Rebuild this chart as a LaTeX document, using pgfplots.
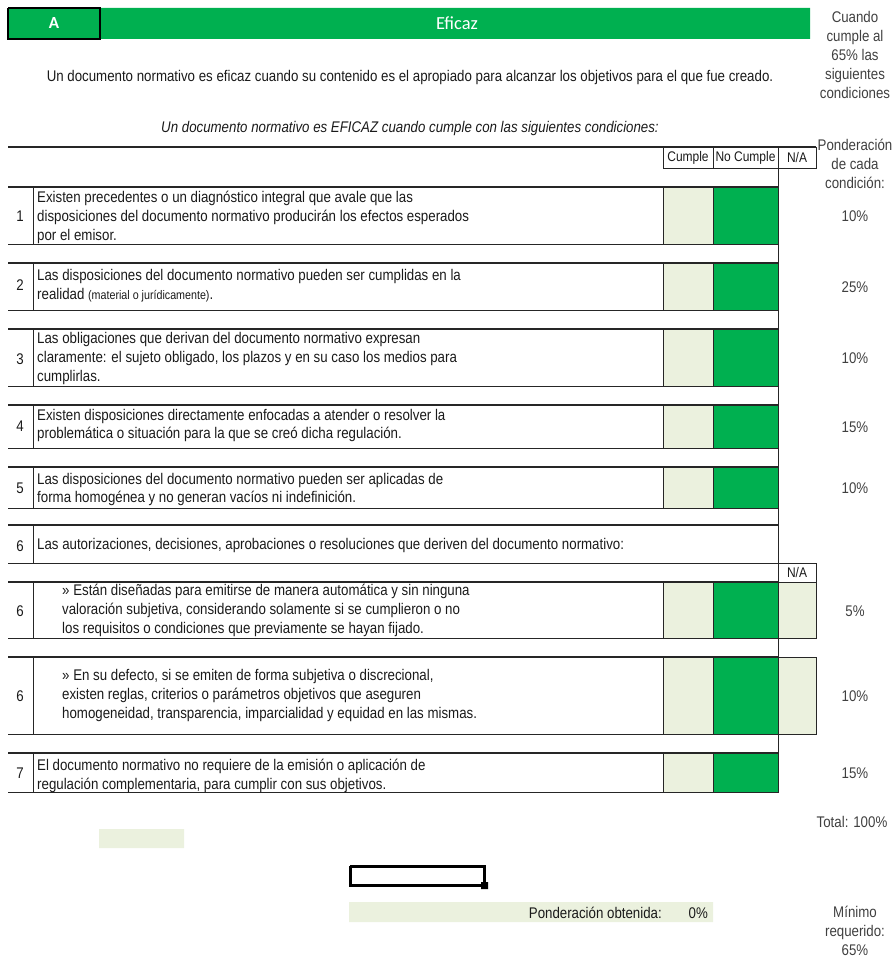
\documentclass[border=0pt]{standalone}
\usepackage{fontspec}
\setmainfont[FakeStretch=0.86]{Liberation Sans}
\newfontfamily\calibri{Carlito}
\usepackage{pgfplots}
\pgfplotsset{compat=1.18}
\definecolor{gr}{HTML}{00B050}
\definecolor{lg}{HTML}{EBF1DE}
\definecolor{bl}{HTML}{262626}
\definecolor{tx}{HTML}{1A1A1A}
\definecolor{gy}{HTML}{404040}

% y1 y2: row box with number column, Cumple and No Cumple cells
\newcommand{\fila}[2]{%
  \addplot[draw=bl, line width=1.3bp] coordinates {(8,#1) (778,#1)};
  \addplot[draw=bl, line width=1bp] coordinates {(8,#2) (778,#2)};
  \addplot[draw=bl, line width=1bp] coordinates {(33,#1) (33,#2)};
  \addplot[draw=bl, fill=lg, line width=1bp] coordinates {(663,#1) (713,#1) (713,#2) (663,#2) (663,#1)};
  \addplot[draw=bl, fill=gr, line width=1bp] coordinates {(713,#1) (778,#1) (778,#2) (713,#2) (713,#1)};
}
\newcommand{\txt}{\fontsize{15.5}{19}\selectfont}

\begin{document}
\begin{tikzpicture}
\begin{axis}[
  width=893bp, height=958bp, scale only axis,
  xmin=0, xmax=893, ymin=0, ymax=958, y dir=reverse,
  hide axis, clip=false,
  every axis plot/.append style={mark=none},
]
\addplot[draw=none] coordinates {(0,0) (893,958)};

% header bar
\addplot[draw=none, fill=gr] coordinates {(8,8) (810,8) (810,39) (8,39) (8,8)};
\addplot[draw=black, fill=gr, line width=2.2bp] coordinates {(8,8) (100,8) (100,39) (8,39) (8,8)};
\node[text=white, font=\calibri\bfseries\fontsize{17}{19}\selectfont] at (axis cs:54,23) {A};
\node[text=white, font=\calibri\fontsize{18.5}{20}\selectfont] at (axis cs:457,23) {Eficaz};

% right column notes
\node[text=gy, align=center, font=\txt, inner sep=0pt] at (axis cs:855,55)
  {Cuando\\cumple al\\65\% las\\siguientes\\condiciones};
\node[text=tx, font=\txt] at (axis cs:410,78)
  {Un documento normativo es eficaz cuando su contenido es el apropiado para alcanzar los objetivos para el que fue creado.};
\node[text=tx, font=\txt\itshape] at (axis cs:410,129)
  {Un documento normativo es EFICAZ cuando cumple con las siguientes condiciones:};
\node[text=gy, align=center, font=\txt, inner sep=0pt] at (axis cs:855,164)
  {Ponderación\\de cada\\condición:};

% column headers
\addplot[draw=bl, line width=1.6bp] coordinates {(8,147) (816,147)};
\addplot[draw=bl, line width=1bp] coordinates {(663,147) (663,169) (816,169) (816,147)};
\addplot[draw=bl, line width=1bp] coordinates {(713,147) (713,169)};
\addplot[draw=bl, line width=1bp] coordinates {(778,147) (778,792)};
\node[font=\fontsize{14}{16}\selectfont, text=tx] at (axis cs:688,158) {Cumple};
\node[font=\fontsize{14}{16}\selectfont, text=tx] at (axis cs:745.5,158) {No Cumple};
\node[font=\fontsize{14}{16}\selectfont, text=tx] at (axis cs:797,158) {N/A};

% rows
\fila{187}{244}
\fila{263}{310}
\fila{329}{386}
\fila{405}{448}
\fila{467}{508}
\addplot[draw=bl, line width=1.3bp] coordinates {(8,525) (778,525)};
\addplot[draw=bl, line width=1bp] coordinates {(33,525) (33,563)};
\addplot[draw=bl, line width=1bp] coordinates {(8,563) (816,563) (816,582)};
\fila{582}{638}
\fila{657}{734}
\addplot[draw=bl, fill=lg, line width=1bp] coordinates {(778,582) (816,582) (816,638) (778,638) (778,582)};
\addplot[draw=bl, fill=lg, line width=1bp] coordinates {(778,657) (816,657) (816,734) (778,734) (778,657)};
\node[font=\fontsize{14}{16}\selectfont, text=tx] at (axis cs:797,573) {N/A};
\fila{753}{792}

% row numbers
\foreach \n/\y in {1/216, 2/285, 3/359, 4/426, 5/488, 6/546, 6/611, 6/696, 7/773}{
  \edef\temp{\noexpand\node[font=\noexpand\txt, text=tx] at (axis cs:20,\y) {\n};}\temp
}

% row texts
\node[font=\txt, text=tx, anchor=west, align=left, inner sep=0pt] at (axis cs:37,217.5)
  {Existen precedentes o un diagnóstico integral que avale que las\\disposiciones del documento normativo producirán los efectos esperados\\por el emisor.};
\node[font=\txt, text=tx, anchor=west, align=left, inner sep=0pt] at (axis cs:37,286)
  {Las disposiciones del documento normativo pueden ser cumplidas en la\\realidad {\fontsize{12.5}{14}\selectfont (material o jurídicamente)}.};
\node[font=\txt, text=tx, anchor=west, align=left, inner sep=0pt] at (axis cs:37,358.5)
  {Las obligaciones que derivan del documento normativo expresan\\claramente: el sujeto obligado, los plazos y en su caso los medios para\\cumplirlas.};
\node[font=\txt, text=tx, anchor=west, align=left, inner sep=0pt] at (axis cs:37,425.5)
  {Existen disposiciones directamente enfocadas a atender o resolver la\\problemática o situación para la que se creó dicha regulación.};
\node[font=\txt, text=tx, anchor=west, align=left, inner sep=0pt] at (axis cs:37,489.5)
  {Las disposiciones del documento normativo pueden ser aplicadas de\\forma homogénea y no generan vacíos ni indefinición.};
\node[font=\txt, text=tx, anchor=west, inner sep=0pt] at (axis cs:37,546)
  {Las autorizaciones, decisiones, aprobaciones o resoluciones que deriven del documento normativo:};
\node[font=\txt, text=tx, anchor=west, align=left, inner sep=0pt] at (axis cs:62,610.5)
  {» Están diseñadas para emitirse de manera automática y sin ninguna\\valoración subjetiva, considerando solamente si se cumplieron o no\\los requisitos o condiciones que previamente se hayan fijado.};
\node[font=\txt, text=tx, anchor=west, align=left, inner sep=0pt] at (axis cs:62,695.5)
  {» En su defecto, si se emiten de forma subjetiva o discrecional,\\existen reglas, criterios o parámetros objetivos que aseguren\\homogeneidad, transparencia, imparcialidad y equidad en las mismas.};
\node[font=\txt, text=tx, anchor=west, align=left, inner sep=0pt] at (axis cs:37,775.5)
  {El documento normativo no requiere de la emisión o aplicación de\\regulación complementaria, para cumplir con sus objetivos.};

% weights
\foreach \p/\y in {10/216, 25/287, 10/358, 15/427, 10/488, 5/611, 10/696, 15/773}{
  \edef\temp{\noexpand\node[font=\noexpand\txt, text=gy] at (axis cs:855,\y) {\p\noexpand\%};}\temp
}
\node[font=\txt, text=gy] at (axis cs:852,822) {Total: 100\%};

% bottom block
\addplot[draw=none, fill=lg] coordinates {(99,829) (184,829) (184,848) (99,848) (99,829)};
\addplot[draw=black, line width=3bp] coordinates {(350,866) (484,866) (484,885) (350,885) (350,866)};
\addplot[draw=none, fill=black] coordinates {(481,882) (488,882) (488,889) (481,889) (481,882)};
\addplot[draw=none, fill=lg] coordinates {(349,902) (713,902) (713,922) (349,922) (349,902)};
\node[font=\txt, text=tx, anchor=east, inner sep=0pt] at (axis cs:662,913) {Ponderación obtenida:};
\node[font=\txt, text=tx, anchor=east, inner sep=0pt] at (axis cs:708,913) {0\%};
\node[text=gy, align=center, font=\txt, inner sep=0pt] at (axis cs:855,931)
  {Mínimo\\requerido:\\65\%};
\end{axis}
\end{tikzpicture}
\end{document}
